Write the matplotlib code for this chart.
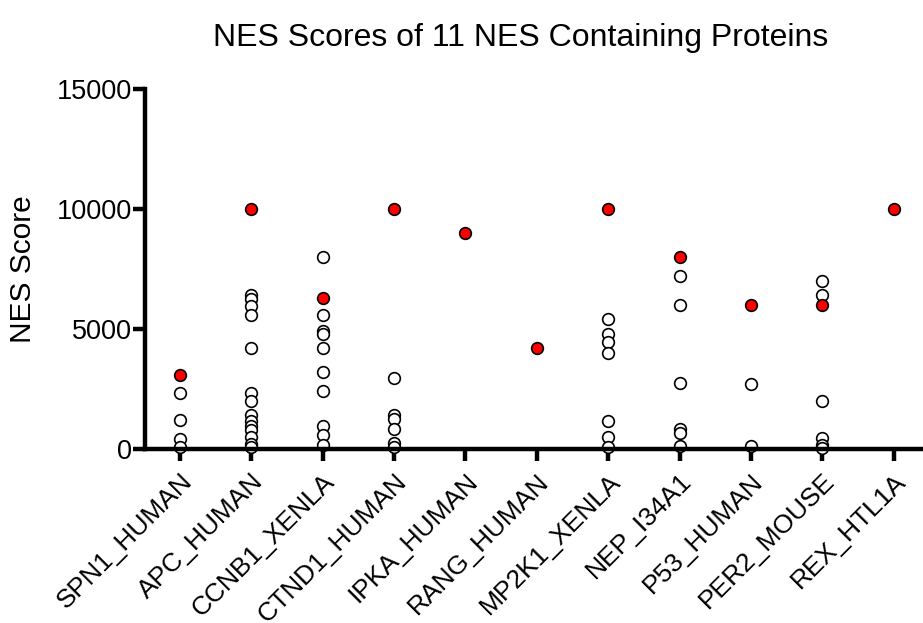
import matplotlib
matplotlib.use("Agg")
import matplotlib.pyplot as plt

plt.rcParams['font.family'] = ['Liberation Sans', 'DejaVu Sans']

proteins = ["SPN1_HUMAN", "APC_HUMAN", "CCNB1_XENLA", "CTND1_HUMAN", "IPKA_HUMAN",
            "RANG_HUMAN", "MP2K1_XENLA", "NEP_I34A1", "P53_HUMAN", "PER2_MOUSE", "REX_HTL1A"]

# candidate NES scores (open circles)
candidate_scores = [
    [2350, 1200, 400, 100],
    [6400, 6250, 5950, 5600, 4200, 2350, 2000, 1400, 1150, 950, 800, 500, 200, 80],
    [8000, 5600, 4900, 4800, 4200, 3200, 2400, 950, 600, 150],
    [2950, 1400, 1250, 850, 250, 100],
    [],
    [],
    [5400, 4800, 4450, 4000, 1150, 500, 100],
    [7200, 6000, 2750, 850, 650, 120],
    [2700, 120],
    [7000, 6400, 2000, 450, 150, 50],
    [],
]

# known NES scores (red filled circles)
known_scores = [3100, 10000, 6300, 10000, 9000, 4200, 10000, 8000, 6000, 6000, 10000]

yticks = [0, 5000, 10000, 15000]

fig = plt.figure(figsize=(9.23, 6.23), dpi=100)
ax = fig.add_axes([145/923, 1-449/623, 1-145/923, (449-89)/623])

for i, vals in enumerate(candidate_scores):
    if vals:
        ax.plot([i]*len(vals), vals, linestyle='none', marker='o', markersize=8.4,
                markerfacecolor='white', markeredgecolor='black', markeredgewidth=1.2,
                clip_on=False, zorder=3)
ax.plot(range(len(known_scores)), known_scores, linestyle='none', marker='o', markersize=8.4,
        markerfacecolor='#ff0000', markeredgecolor='black', markeredgewidth=1.2,
        clip_on=False, zorder=4)

ax.set_xlim(-0.49, 10.41)
ax.set_ylim(0, 15000)
ax.set_yticks(yticks)
ax.set_yticklabels([str(v) for v in yticks], fontsize=19.5)
ax.set_xticks(range(len(proteins)))
ax.set_xticklabels(proteins, rotation=45, ha='right', rotation_mode='anchor', fontsize=19)

for s in ['top', 'right']:
    ax.spines[s].set_visible(False)
for s in ['left', 'bottom']:
    ax.spines[s].set_linewidth(3.2)
    ax.spines[s].set_zorder(5)
ax.tick_params(axis='both', length=8.5, width=3.2, pad=1)
ax.tick_params(axis='x', pad=6)

ax.set_ylabel("NES Score", fontsize=21.5, labelpad=14)
fig.text(521/923, 1-38/623, "NES Scores of 11 NES Containing Proteins",
         ha='center', va='center', fontsize=23)

fig.savefig("out.png", dpi=100)
